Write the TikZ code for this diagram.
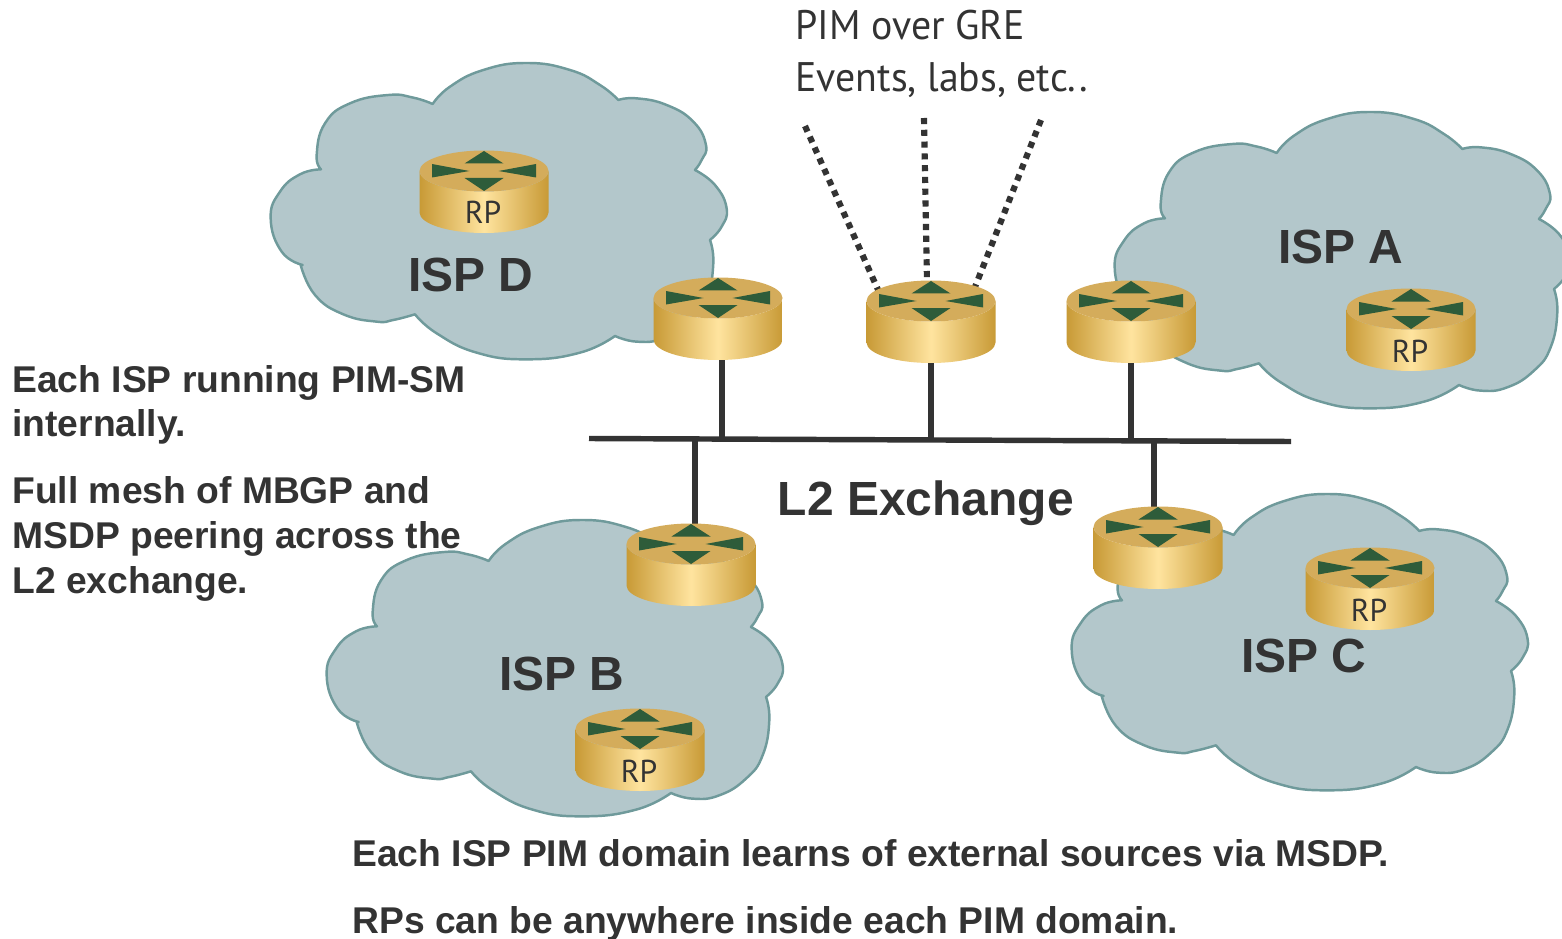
\documentclass[tikz,border=0pt]{standalone}
\usepackage{fontspec}
\setmainfont{Liberation Sans}
\newfontfamily\thinfont{PT Sans}
\usetikzlibrary{calc}
\definecolor{ink}{HTML}{333333}
\definecolor{cloudfill}{HTML}{B3C7CB}
\definecolor{cloudline}{HTML}{6F9A9B}
\definecolor{rtop}{HTML}{D4AC5B}
\definecolor{redge}{HTML}{C89A36}
\definecolor{rmid}{HTML}{FFE49F}
\definecolor{rgreen}{HTML}{2E5C3A}
\tikzset{
  cloudshape/.style={fill=cloudfill,draw=cloudline,line width=1.4pt,line join=round},
  lobe/.style={smooth,tension=.8},
  wire/.style={draw=ink,line width=3.1pt},
  dotwire/.style={draw=ink,line width=3.5pt,dash pattern=on 3.5pt off 3.2pt},
  routerbox/.style={minimum width=2.58cm,minimum height=1.66cm,inner sep=0pt,outer sep=0pt},
  big/.style={font=\fontsize{27.3pt}{30pt}\selectfont\bfseries,text=ink,anchor=base west,inner sep=0pt},
  note/.style={font=\fontsize{21.2pt}{24pt}\selectfont\bfseries,text=ink,anchor=base west,inner sep=0pt},
  thin/.style={font=\fontsize{23.5pt}{26pt}\selectfont\thinfont,text=ink,anchor=base west,inner sep=0pt,xscale=.965},
  rplabel/.style={font=\fontsize{18pt}{20pt}\selectfont\thinfont,text=ink,anchor=base,inner sep=0pt}
}
% one cloud outline, traced in units of a third of a pixel
\newcommand{\cloudat}[2]{%
  \begin{scope}[shift={(#1,#2)},x=0.02cm/3,y=-0.02cm/3]
  \path[cloudshape]
    plot[lobe] coordinates {(183,343) (170,300) (195,205) (270,145) (385,120) (460,128) (518,147)}
    -- plot[lobe] coordinates {(518,147) (570,95) (670,45) (800,24) (930,45) (1020,90) (1075,135)}
    -- plot[lobe] coordinates {(1075,135) (1130,130) (1220,150) (1300,200) (1338,270) (1325,315) (1305,345)}
    -- plot[lobe] coordinates {(1305,345) (1365,390) (1400,460) (1385,515) (1350,555)}
    -- plot[lobe] coordinates {(1350,555) (1360,625) (1340,730) (1290,800) (1210,850) (1130,860) (1065,843)}
    -- plot[lobe] coordinates {(1065,843) (960,893) (800,913) (650,893) (530,835) (465,778)}
    -- plot[lobe] coordinates {(465,778) (400,795) (350,800) (250,778) (165,720) (122,630)}
    -- plot[lobe] coordinates {(128,630) (65,590) (32,490) (60,410) (120,358) (183,343)}
    -- cycle;
  \end{scope}}
% \router{name}{cx}{cy}{label}: cx,cy = centre of the top ellipse
\newcommand{\router}[4]{%
  \begin{scope}[shift={(#2,#3)}]
    \path[left color=redge,right color=redge,middle color=rmid]
      (-64.5,0) -- (-64.5,41.5) arc[start angle=180,end angle=0,x radius=64.5,y radius=20.5]
      -- (64.5,0) arc[start angle=0,end angle=180,x radius=64.5,y radius=20.5] -- cycle;
    \fill[rtop] (0,0) ellipse[x radius=64.5,y radius=20.5];
    \fill[rgreen] (0,-20) -- (19.5,-7.5) -- (-19.5,-7.5) -- cycle;
    \fill[rgreen] (0,20) -- (19.5,7) -- (-19.5,7) -- cycle;
    \fill[rgreen] (-52,-7) -- (-14.5,0) -- (-52,6.5) -- cycle;
    \fill[rgreen] (52,-7) -- (14.5,0) -- (52,6.5) -- cycle;
    \node[routerbox] (#1) at (0,21) {};
    \node[rplabel] (#1t) at (-1,53) {#4};
  \end{scope}}
\begin{document}
\begin{tikzpicture}[x=0.02cm,y=-0.02cm]
\useasboundingbox (0,0) rectangle (1562,939);
\clip (0,0) rectangle (1562,939);
% clouds
\cloudat{260}{55}
\cloudat{1104}{104}
\cloudat{316}{512}
\cloudat{1061}{486}
% bus and free ends
\coordinate (busL) at (589,438.5);
\coordinate (busR) at (1291,441.5);
\coordinate (tapD) at (722,439);
\coordinate (tapM) at (931,440);
\coordinate (tapA) at (1131,441);
\coordinate (tapB) at (695,439);
\coordinate (tapC) at (1154,441);
\coordinate (gre1) at (805,126);
\coordinate (gre2) at (924,118);
\coordinate (gre3) at (1041,120);
\coordinate (gre1e) at (879,292);
\coordinate (gre2e) at (927,282);
\coordinate (gre3e) at (975,287);
\draw[wire] (busL) -- (busR);
\draw[wire] (tapD) -- (722,340);
\draw[wire] (tapM) -- (931,340);
\draw[wire] (tapA) -- (1131,340);
\draw[wire] (tapB) -- (695,540);
\draw[wire] (tapC) -- (1154,520);
\draw[dotwire] (gre1) -- (gre1e);
\draw[dotwire] (gre2) -- (gre2e);
\draw[dotwire] (gre3) -- (gre3e);
% routers
\router{rpD}{484}{171}{RP}
\router{xD}{718}{298}{}
\router{xM}{931}{301}{}
\router{xA}{1131}{301}{}
\router{rpA}{1411}{309}{RP}
\router{xB}{691}{544}{}
\router{rpB}{640}{729}{RP}
\router{xC}{1158}{527}{}
\router{rpC}{1370}{568}{RP}
% labels
\node[big] (ispD) at (408,292) {ISP D};
\node[big] (ispA) at (1278,263.5) {ISP A};
\node[big] (ispB) at (499,690.5) {ISP B};
\node[big] (ispC) at (1241,672.5) {ISP C};
\node[big] (l2) at (777.5,515) {L2 Exchange};
\node[note] (n1) at (12,392) {Each ISP running PIM-SM};
\node[note] (n2) at (12,436.5) {internally.};
\node[note] (n3) at (12,503) {Full mesh of MBGP and};
\node[note] (n4) at (12,548) {MSDP peering across the};
\node[note] (n5) at (12,593) {L2 exchange.};
\node[note] (n6) at (352,866) {Each ISP PIM domain learns of external sources via MSDP.};
\node[note] (n7) at (352,933) {RPs can be anywhere inside each PIM domain.};
\node[thin] (t1) at (795,40) {PIM over GRE};
\node[thin] (t2) at (795,92) {Events, labs, etc..};
\end{tikzpicture}
\end{document}
